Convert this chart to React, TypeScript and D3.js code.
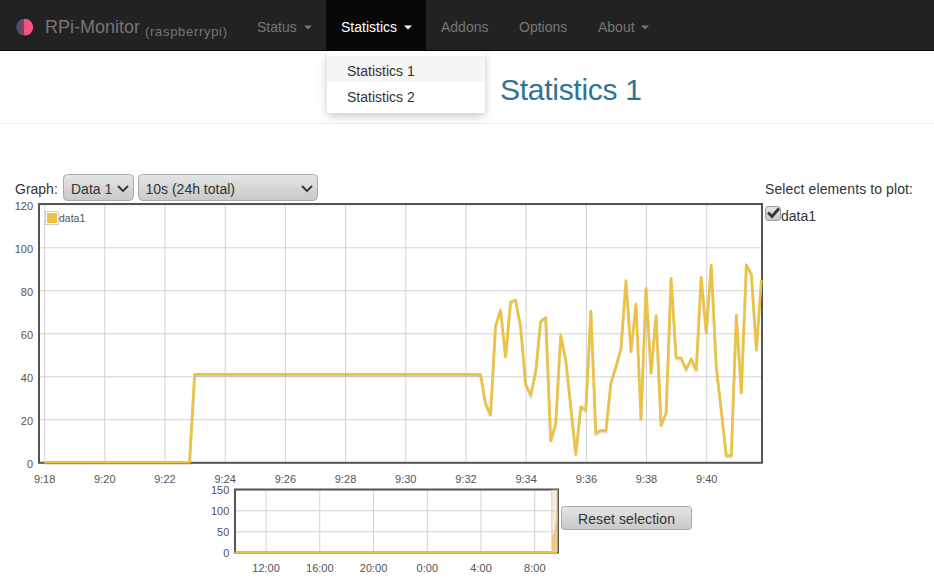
import { useEffect, useRef } from 'react';
import * as d3 from 'd3';

const W = 934;
const H = 587;
const FONT = '"Liberation Sans", Arial, sans-serif';
const SERIES_COLOR = '#edc240';

const navItems = ['Status', 'Statistics', 'Addons', 'Options', 'About'];
const menuItems = ['Statistics 1', 'Statistics 2'];

const mainYTicks = [0, 20, 40, 60, 80, 100, 120];
const mainXTicks = ['9:18', '9:20', '9:22', '9:24', '9:26', '9:28', '9:30', '9:32', '9:34', '9:36', '9:38', '9:40'];
const overviewYTicks = [0, 50, 100, 150];
const overviewXTicks = ['12:00', '16:00', '20:00', '0:00', '4:00', '8:00'];

// one value every 10s, first one at 9:18:00
const idleValues = [
  0, 0, 0, 0, 0, 0, 0, 0, 0, 0, 0, 0, 0, 0, 0, 0, 0, 0, 0, 0, 0, 0, 0, 0, 0, 0, 0, 0, 0, 0,
];
const flatValues = [
  40.9, 40.9, 40.9, 40.9, 40.9, 40.9, 40.9, 40.9, 40.9, 40.9, 40.9, 40.9, 40.9, 40.9, 40.9, 40.9,
  40.9, 40.9, 40.9, 40.9, 40.9, 40.9, 40.9, 40.9, 40.9, 40.9, 40.9, 40.9, 40.9, 40.9, 40.9, 40.9,
  40.9, 40.9, 40.9, 40.9, 40.9, 40.9, 40.9, 40.9, 40.9, 40.9, 40.9, 40.9, 40.9, 40.9, 40.9, 40.9,
  40.9, 40.9, 40.9, 40.9, 40.9, 40.9, 40.9, 40.9, 40.9, 40.9,
];
const busyValues = [
  27.4, 22, 63.4, 70.9, 49.1, 74.6, 75.5, 63.1, 36.4, 31.3, 42.2, 65.7, 67.3, 9.9, 18.1, 59.2,
  47.6, 25.9, 3.7, 25.9, 24.3, 70.5, 13.5, 14.9, 14.6, 37.1, 44.5, 53, 84.5, 51.5, 73.6, 20,
  80.9, 41.4, 68.2, 17.1, 23.1, 85.6, 48.7, 48.5, 43.3, 48.1, 42.9, 86, 60.3, 91.8, 44.5, 24.3,
  3.1, 3.1, 68.5, 32.4, 91.8, 87.6, 52.2, 84.8,
];
const values = [...idleValues, ...flatValues, ...busyValues];

// the overview is sampled much coarser than the main chart
const overviewTimes = [
  [9, 18, 0], [9, 22, 50], [9, 23, 0], [9, 32, 30], [9, 34, 0], [9, 37, 0], [9, 40, 0], [9, 41, 50],
];
const overviewValues = [0, 0, 40.9, 40.9, 48, 62, 78, 92];

const axisStart = new Date(2024, 0, 2, 9, 17, 50);
const dataStart = new Date(2024, 0, 2, 9, 18, 0);
const endTime = new Date(2024, 0, 2, 9, 41, 50);
const overviewStart = new Date(2024, 0, 1, 9, 41, 50);

const tickDate = (label: string) => {
  const [h, m] = label.split(':').map(Number);
  // hours after 9:41 belong to the day before
  return new Date(2024, 0, h > 9 ? 1 : 2, h, m);
};

const points = values.map((v, i) => ({ t: new Date(dataStart.getTime() + i * 10000), v }));
const overviewPoints = [
  { t: overviewStart, v: 0 },
  ...overviewValues.map((v, i) => {
    const [h, m, s] = overviewTimes[i];
    return { t: new Date(2024, 0, 2, h, m, s), v };
  }),
];

const timeLabel = (d: Date) => `${d.getHours()}:${String(d.getMinutes()).padStart(2, '0')}`;

export default function App() {
  const mainX = useRef<SVGGElement>(null);
  const mainY = useRef<SVGGElement>(null);
  const ovX = useRef<SVGGElement>(null);
  const ovY = useRef<SVGGElement>(null);

  const x = d3.scaleTime().domain([axisStart, endTime]).range([39.1, 761.4]);
  const y = d3.scaleLinear().domain([0, 120]).range([462.3, 204.3]);
  const x2 = d3.scaleTime().domain([overviewStart, endTime]).range([234.6, 557.1]);
  const y2 = d3.scaleLinear().domain([0, 150]).range([552.3, 489.3]);

  const line = d3.line<{ t: Date; v: number }>().x((d) => x(d.t)).y((d) => y(d.v));
  const line2 = d3.line<{ t: Date; v: number }>().x((d) => x2(d.t)).y((d) => y2(d.v));
  const area2 = d3
    .area<{ t: Date; v: number }>()
    .x((d) => x2(d.t))
    .y0(y2(0))
    .y1((d) => y2(d.v));

  useEffect(() => {
    const style = (sel: d3.Selection<SVGGElement, unknown, null, undefined>) => {
      sel.select('.domain').remove();
      sel.selectAll('line').attr('stroke', '#d2d2d2').attr('stroke-width', 1);
      sel.selectAll('text').attr('fill', '#545454').attr('font-size', 11).attr('font-family', FONT);
    };
    const a = d3.select(mainX.current!);
    a.call(
      d3.axisBottom(x).tickValues(mainXTicks.map(tickDate)).tickFormat((d) => timeLabel(d as Date)).tickSize(-258).tickPadding(13) as any,
    );
    style(a);
    const b = d3.select(mainY.current!);
    b.call(d3.axisLeft(y).tickValues(mainYTicks).tickSize(-722).tickPadding(6) as any);
    style(b);
    b.selectAll('text').attr('transform', 'translate(0,1.5)');
    const c = d3.select(ovX.current!);
    c.call(
      d3.axisBottom(x2).tickValues(overviewXTicks.map(tickDate)).tickFormat((d) => timeLabel(d as Date)).tickSize(-63).tickPadding(12) as any,
    );
    style(c);
    const e = d3.select(ovY.current!);
    e.call(d3.axisLeft(y2).tickValues(overviewYTicks).tickSize(-322).tickPadding(6) as any);
    style(e);
    e.selectAll('text').attr('transform', 'translate(0,1)');
  }, []);

  const navX = [257, 341, 441, 519, 598];

  return (
    <svg
      width={W}
      height={H}
      viewBox={`0 0 ${W} ${H}`}
      style={{ position: 'absolute', left: 0, top: 0, fontFamily: FONT }}
    >
      <defs>
        <linearGradient id="btn" x1="0" x2="0" y1="0" y2="1">
          <stop offset="0" stopColor="#e6e6e6" />
          <stop offset="1" stopColor="#c8c8c8" />
        </linearGradient>
        <linearGradient id="logo" x1="0" x2="1" y1="0" y2="0">
          <stop offset="0" stopColor="#5c4566" />
          <stop offset="0.48" stopColor="#6b4a6e" />
          <stop offset="0.48" stopColor="#f0507f" />
          <stop offset="1" stopColor="#ff5a86" />
        </linearGradient>
        <filter id="menuShadow" x="-10%" y="-10%" width="120%" height="130%">
          <feDropShadow dx="0" dy="3" stdDeviation="5" floodColor="#000" floodOpacity="0.22" />
        </filter>
      </defs>

      <rect width={W} height={H} fill="#fff" />

      {/* navbar */}
      <rect width={W} height={50} fill="#222" />
      <rect y={50} width={W} height={1} fill="#080808" />
      <rect x={326} width={100} height={50} fill="#080808" />
      <circle cx={24.7} cy={27.2} r={8.4} fill="url(#logo)" />
      <text x={45} y={33} fontSize={18} fill="#777">RPi-Monitor</text>
      <text x={145} y={36} fontSize={13} fill="#777" textLength={82}>(raspberrypi)</text>
      {navItems.map((n, i) => (
        <g key={n}>
          <text x={navX[i]} y={32} fontSize={14} fill={i === 1 ? '#fff' : '#777'}>{n}</text>
          {(i === 0 || i === 1 || i === 4) && (
            <path
              d={`M${[304, 404, 0, 0, 641][i]},25.5h8l-4,4z`}
              fill={i === 1 ? '#fff' : '#777'}
            />
          )}
        </g>
      ))}

      {/* page title */}
      <text x={500} y={100} fontSize={30} fill="#2f7396" textLength={142}>Statistics 1</text>
      <rect y={123} width={W} height={1} fill="#eee" />

      {/* dropdown */}
      <rect x={327} y={51} width={158} height={62} rx={4} fill="#fff" filter="url(#menuShadow)" />
      <rect x={327} y={56} width={158} height={26} fill="#f5f5f5" />
      {menuItems.map((m, i) => (
        <text key={m} x={347} y={76 + i * 26} fontSize={14} fill="#333">{m}</text>
      ))}

      {/* controls */}
      <text x={15} y={194} fontSize={14} fill="#333">Graph:</text>
      <rect x={63.5} y={174.5} width={70} height={26} rx={4} fill="url(#btn)" stroke="#aaa" />
      <text x={71} y={194} fontSize={14} fill="#333">Data 1</text>
      <path d="M118,186l5,5 5,-5" fill="none" stroke="#333" strokeWidth={1.8} />
      <rect x={138.5} y={174.5} width={179} height={26} rx={4} fill="url(#btn)" stroke="#aaa" />
      <text x={145.5} y={194} fontSize={14} fill="#333">10s (24h total)</text>
      <path d="M302,186l5,5 5,-5" fill="none" stroke="#333" strokeWidth={1.8} />

      <text x={765} y={194} fontSize={14} fill="#333" textLength={148}>Select elements to plot:</text>
      <rect x={765.5} y={206.5} width={15} height={14} rx={3} fill="url(#btn)" stroke="#999" />
      <path d="M768,212.5l4,4 7,-8" fill="none" stroke="#333" strokeWidth={2.8} />
      <text x={781} y={221} fontSize={14} fill="#333">data1</text>

      {/* main chart */}
      <g ref={mainX} transform="translate(0,462.3)" />
      <g ref={mainY} transform="translate(39.1,0)" />
      <rect x={39} y={204} width={723} height={258.8} fill="none" stroke="#545454" strokeWidth={2} />
      <path d={line(points) ?? ''} fill="none" stroke="#000" strokeOpacity={0.12} strokeWidth={3} transform="translate(0,1.2)" />
      <path d={line(points) ?? ''} fill="none" stroke={SERIES_COLOR} strokeWidth={2.6} strokeLinejoin="round" />

      {/* legend */}
      <rect x={45.5} y={211.5} width={13} height={13} fill="#fff" stroke="#ccc" />
      <rect x={47} y={213} width={10} height={10} fill={SERIES_COLOR} />
      <text x={59} y={222} fontSize={10.5} fill="#545454">data1</text>

      {/* overview */}
      <g ref={ovX} transform="translate(0,552.3)" />
      <g ref={ovY} transform="translate(235.3,0)" />
      <rect x={235} y={489.5} width={323} height={63} fill="none" stroke="#545454" strokeWidth={2} />
      <path d={area2(overviewPoints) ?? ''} fill={SERIES_COLOR} fillOpacity={0.85} />
      <path d={line2(overviewPoints) ?? ''} fill="none" stroke={SERIES_COLOR} strokeWidth={1.5} />
      <path d={`M${x2(overviewStart) + 1},${y2(0)}H${x2(endTime)}`} stroke={SERIES_COLOR} strokeWidth={2} />
      <rect
        x={x2(dataStart)}
        y={490.3}
        width={x2(endTime) - x2(dataStart)}
        height={61}
        fill="#e8cfac"
        fillOpacity={0.4}
        stroke="#e8cfac"
      />

      {/* reset */}
      <rect x={561.5} y={506.5} width={130} height={23} rx={3} fill="url(#btn)" stroke="#aaa" />
      <text x={578} y={524} fontSize={14} fill="#333" textLength={97}>Reset selection</text>
    </svg>
  );
}
